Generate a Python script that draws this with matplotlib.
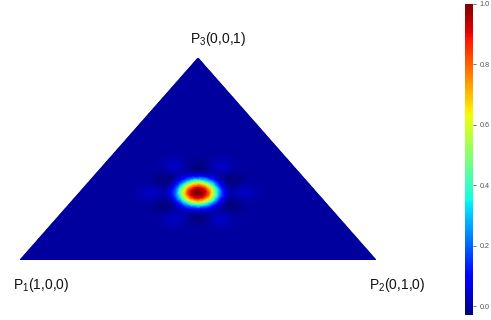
import numpy as np
import matplotlib
matplotlib.use("Agg")
import matplotlib.pyplot as plt
import matplotlib.tri as mtri

plt.rcParams['font.family'] = ['Liberation Sans', 'DejaVu Sans']
plt.rcParams['mathtext.fontset'] = 'custom'
plt.rcParams['mathtext.rm'] = 'Liberation Sans'
plt.rcParams['mathtext.it'] = 'Liberation Sans'

# triangle corners (x, y) in the plot frame and their labels
vertex_x = [0.0, 1.0, 0.5]
vertex_y = [0.0, 0.0, 1.0]
vertex_labels = ["P$_1$(1,0,0)", "P$_2$(0,1,0)", "P$_3$(0,0,1)"]
label_offsets = [(-5, -18), (-5, -18), (-6, 14)]  # points

# peak (barycentric centre, height, shape)
peak_bary = [1 / 3, 1 / 3, 1 / 3]
peak_value = 1.0
peak_scale = 0.054
peak_power = 2.7

# faint side lobes around the peak (angle in degrees, radius, amplitude)
lobe_angles = [0, 60, 120, 180, 240, 300, 30, 90, 150, 210, 270, 330]
lobe_radius = [0.13, 0.13, 0.13, 0.13, 0.13, 0.13,
               0.105, 0.105, 0.105, 0.105, 0.105, 0.105]
lobe_amp = [0.035, 0.035, 0.035, 0.035, 0.035, 0.035,
            -0.033, -0.033, -0.033, -0.033, -0.033, -0.033]
lobe_width = 0.024

cbar_ticks = [0.0, 0.2, 0.4, 0.6, 0.8, 1.0]


def field(px, py):
    # physical (equilateral) coordinates
    ex, ey = px, py * np.sqrt(3) / 2
    cx = peak_bary[1] + 0.5 * peak_bary[2]
    cy = peak_bary[2] * np.sqrt(3) / 2
    r = np.hypot(ex - cx, ey - cy)
    z = peak_value * np.exp(-(r / peak_scale) ** peak_power)
    for ang, rad, amp in zip(lobe_angles, lobe_radius, lobe_amp):
        lx = cx + rad * np.cos(np.radians(ang))
        ly = cy + rad * np.sin(np.radians(ang))
        z = z + amp * np.exp(-((ex - lx) ** 2 + (ey - ly) ** 2) / (2 * lobe_width ** 2))
    return z


# fine mesh over the triangle
n = 162
pts = []
for i in range(n + 1):
    for j in range(n + 1 - i):
        l2 = i / n
        l3 = j / n
        pts.append((vertex_x[0] + l2 * (vertex_x[1] - vertex_x[0]) + l3 * (vertex_x[2] - vertex_x[0]),
                    vertex_y[0] + l2 * (vertex_y[1] - vertex_y[0]) + l3 * (vertex_y[2] - vertex_y[0])))
pts = np.array(pts)
tri = mtri.Triangulation(pts[:, 0], pts[:, 1])
z = field(pts[:, 0], pts[:, 1])

fig = plt.figure(figsize=(4.91, 3.20), dpi=100)
ax = fig.add_axes([20 / 491, 60 / 320, 356 / 491, 202 / 320])
tpc = ax.tripcolor(tri, z, shading='gouraud', cmap='jet',
                   vmin=z.min(), vmax=max(z.max(), peak_value))
ax.set_xlim(0, 1)
ax.set_ylim(0, 1)
ax.axis('off')

for vx, vy, lab, off in zip(vertex_x, vertex_y, vertex_labels, label_offsets):
    ax.annotate(lab, xy=(vx, vy), xytext=off, textcoords='offset points',
                ha='left', va='center', fontsize=10, color='#111111',
                annotation_clip=False)

cax = fig.add_axes([465 / 491, 5 / 320, 8 / 491, 311 / 320])
cb = fig.colorbar(tpc, cax=cax, ticks=cbar_ticks)
cb.outline.set_visible(False)
cb.ax.set_yticklabels([f"{t:.1f}" for t in cbar_ticks])
cb.ax.tick_params(labelsize=5.2, colors='#555555', length=2.5, width=0.6, pad=2)

fig.savefig('out.png', dpi=100)
